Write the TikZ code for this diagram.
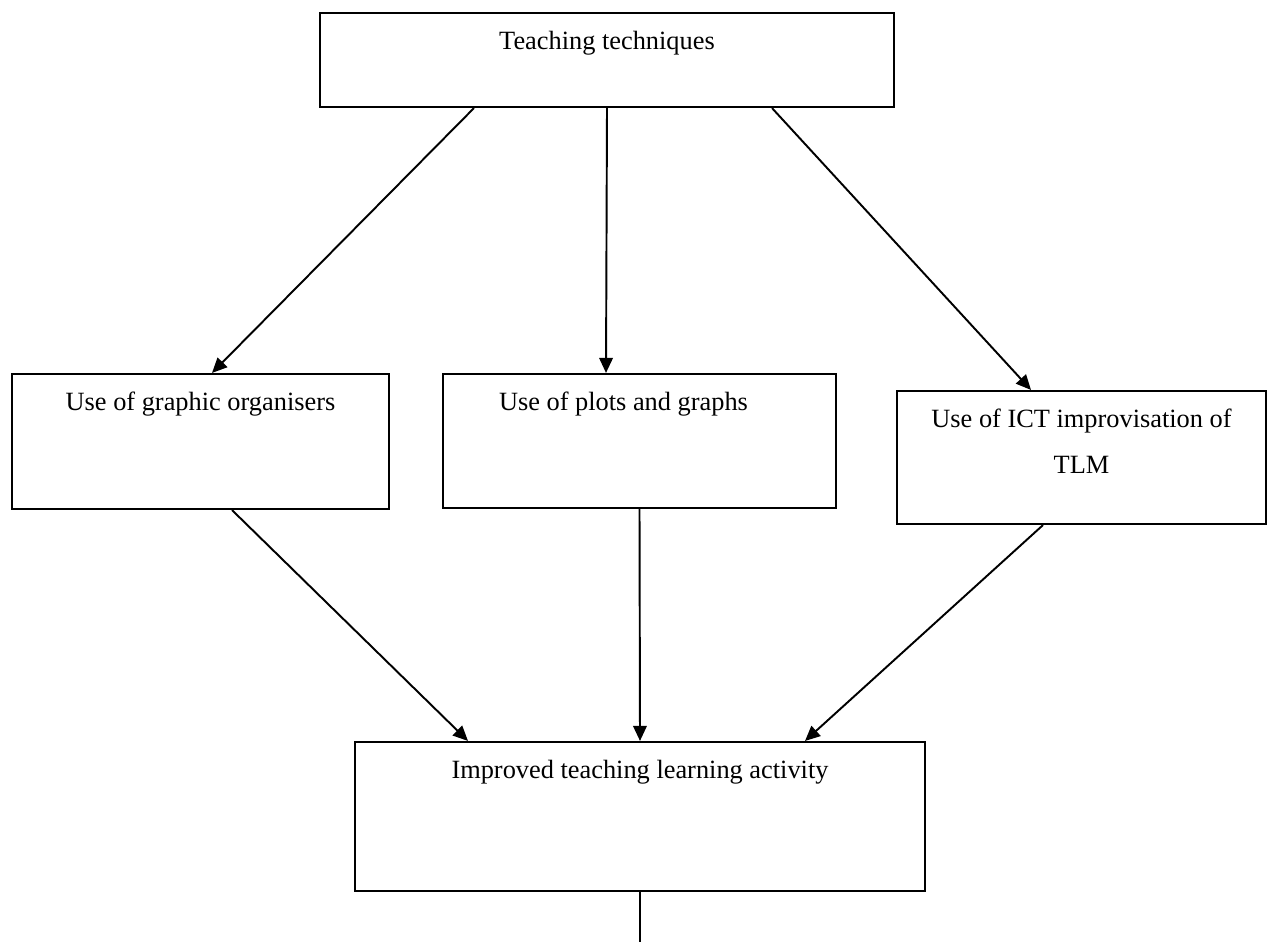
\documentclass[tikz,border=0pt]{standalone}
\usepackage{fontspec}
\setmainfont{Liberation Serif}
\usetikzlibrary{arrows.meta}

\tikzset{
  box/.style={draw, line width=1.2pt, inner sep=0pt},
  lbl/.style={anchor=north, inner sep=0pt, yshift=-0.36cm, align=center, font=\fontsize{15}{26}\selectfont},
}

\begin{document}
\begin{tikzpicture}[x=1cm,y=1cm,>={Triangle[length=0.3cm,width=0.27cm]},line width=1.1pt]
  \useasboundingbox (0,0) rectangle (25.34,18.84);
  \node[box, minimum width=11.48cm, minimum height=1.88cm, label={[lbl]north:Teaching techniques}] (tech) at (12.14,17.64) {};
  \node[box, minimum width=7.54cm, minimum height=2.7cm, label={[lbl]north:Use of graphic organisers}] (graphic) at (4.01,10.01) {};
  \node[box, minimum width=7.86cm, minimum height=2.68cm, label={[lbl,xshift=-0.32cm]north:Use of plots and graphs}] (plots) at (12.79,10.02) {};
  \node[box, minimum width=7.38cm, minimum height=2.66cm, label={[lbl]north:Use of ICT improvisation of\\TLM}] (ict) at (21.63,9.69) {};
  \node[box, minimum width=11.4cm, minimum height=2.98cm, label={[lbl]north:Improved teaching learning activity}] (improved) at (12.8,2.51) {};
  \coordinate (out) at (12.8,0);

  % upper arrows
  \draw[->] ([xshift=-2.66cm]tech.south) -- ([xshift=0.23cm]graphic.north);
  \draw[->] (tech.south) -- ([xshift=-0.67cm]plots.north);
  \draw[->] ([xshift=3.3cm]tech.south) -- ([xshift=-1.01cm]ict.north);
  % lower arrows
  \draw[->] ([xshift=0.63cm]graphic.south) -- ([xshift=-3.44cm]improved.north);
  \draw[->] (plots.south) -- (improved.north);
  \draw[->] ([xshift=-0.77cm]ict.south) -- ([xshift=3.3cm]improved.north);
  \draw (improved.south) -- (out);
\end{tikzpicture}
\end{document}
